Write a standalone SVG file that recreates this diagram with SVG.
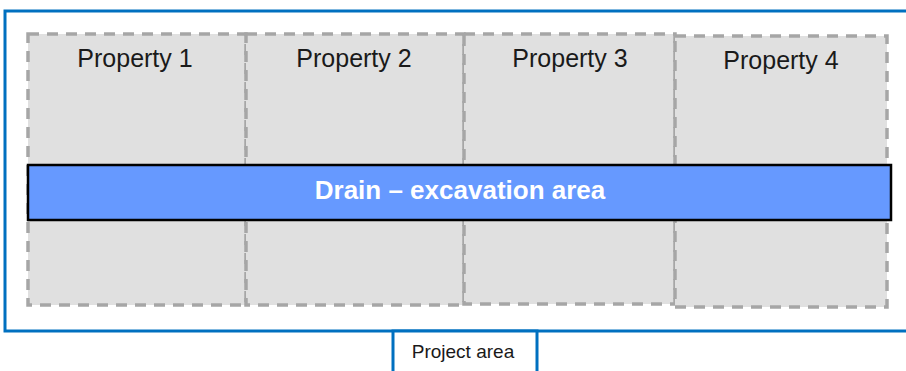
<svg xmlns="http://www.w3.org/2000/svg" width="906" height="371" viewBox="0 0 906 371">
<style>
.prop{fill:#e0e0e0;stroke:#a6a6a6;stroke-width:3.5;stroke-dasharray:11 8}
.plabel{font-family:"Liberation Sans",Arial,sans-serif;font-size:25px;fill:#1a1a1a;text-anchor:middle}
.area{fill:none;stroke:#0070c0;stroke-width:3}
</style>
<rect width="906" height="371" fill="#ffffff"/>
<g id="project-area">
<rect class="area" x="5" y="11" width="910" height="320"/>
</g>
<g id="property-1">
<rect class="prop" x="28" y="34" width="218" height="271"/>
<text class="plabel" x="135" y="67">Property 1</text>
</g>
<g id="property-2">
<rect class="prop" x="246" y="34" width="218" height="271"/>
<text class="plabel" x="354" y="67">Property 2</text>
</g>
<g id="property-3">
<rect class="prop" x="464" y="34" width="211" height="270"/>
<text class="plabel" x="570" y="67">Property 3</text>
</g>
<g id="property-4">
<rect class="prop" x="675" y="36" width="212" height="271"/>
<text class="plabel" x="781" y="69">Property 4</text>
</g>
<g id="drain">
<rect x="28" y="165" width="863" height="55" fill="#6699ff" stroke="#000000" stroke-width="2.5"/>
<text x="460" y="199" font-family="'Liberation Sans',Arial,sans-serif" font-size="26" font-weight="bold" fill="#ffffff" text-anchor="middle">Drain – excavation area</text>
</g>
<g id="project-area-label">
<rect x="393" y="331" width="144" height="60" fill="#ffffff" stroke="#0070c0" stroke-width="3"/>
<text x="463" y="358" font-family="'Liberation Sans',Arial,sans-serif" font-size="19" fill="#1a1a1a" text-anchor="middle">Project area</text>
</g>
<g id="connectors"></g>
</svg>
